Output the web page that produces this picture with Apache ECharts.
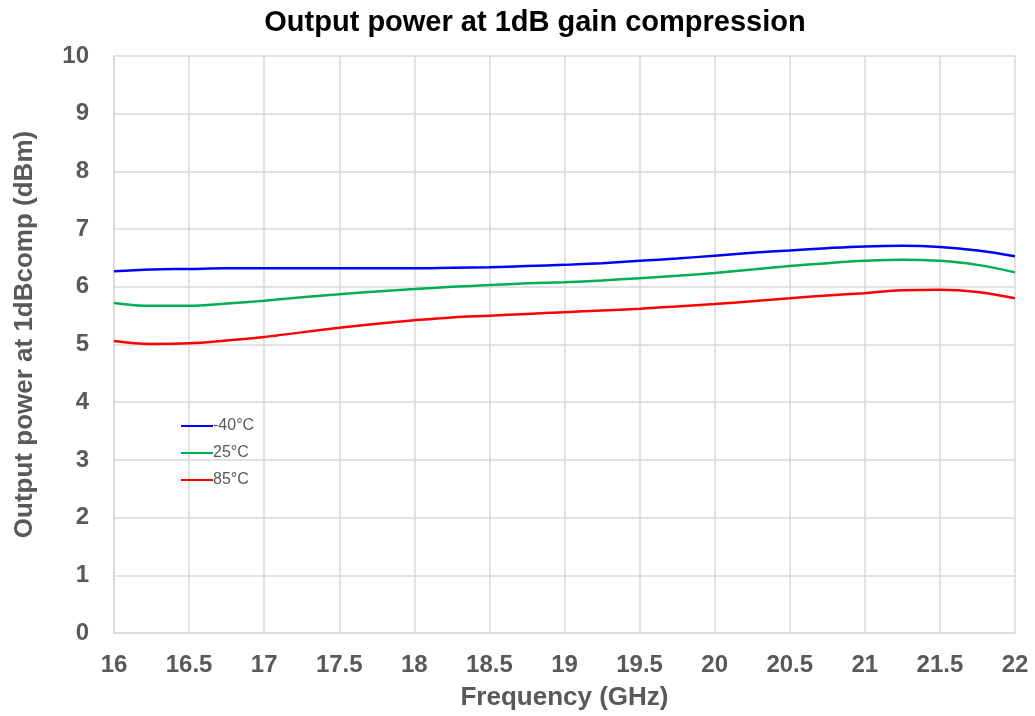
<!DOCTYPE html>
<html>
<head>
<meta charset="utf-8">
<script src="https://cdn.jsdelivr.net/npm/echarts@6/dist/echarts.min.js"></script>
<style>
  html, body { margin: 0; padding: 0; background: #ffffff; }
  #chart { width: 1035px; height: 716px; }
</style>
</head>
<body>
<div id="chart"></div>
<script>
// Frequency points (GHz)
const freqs = [16, 16.25, 16.5, 16.75, 17, 17.25, 17.5, 17.75, 18, 18.25, 18.5, 18.75,
               19, 19.25, 19.5, 19.75, 20, 20.25, 20.5, 20.75, 21, 21.25, 21.5, 21.75, 22];

// P1dB output power (dBm) per temperature
const pMinus40 = [6.27, 6.30, 6.31, 6.32, 6.32, 6.32, 6.32, 6.32, 6.32, 6.33, 6.34, 6.36,
                  6.38, 6.41, 6.45, 6.49, 6.54, 6.59, 6.63, 6.67, 6.70, 6.71, 6.69, 6.63, 6.53];
const p25 = [5.72, 5.67, 5.67, 5.71, 5.76, 5.82, 5.87, 5.92, 5.96, 6.00, 6.03, 6.06,
             6.08, 6.11, 6.15, 6.19, 6.24, 6.30, 6.36, 6.41, 6.45, 6.47, 6.45, 6.38, 6.25];
const p85 = [5.06, 5.01, 5.02, 5.07, 5.13, 5.21, 5.29, 5.36, 5.42, 5.47, 5.50, 5.53,
             5.56, 5.59, 5.62, 5.66, 5.70, 5.75, 5.80, 5.85, 5.89, 5.94, 5.95, 5.91, 5.80];

const seriesNames = ['-40°C', '25°C', '85°C'];
const seriesColors = ['#0000ff', '#00b050', '#ff0000'];
const seriesData = [pMinus40, p25, p85];

const chart = echarts.init(document.getElementById('chart'), null, { renderer: 'canvas' });

const FONT = 'Liberation Sans, Arial, sans-serif';
const tickFont = { fontFamily: FONT, fontWeight: 'bold', fontSize: 24, color: '#595959' };
const nameFont = { fontFamily: FONT, fontWeight: 'bold', fontSize: 26, color: '#595959' };
const gridColor = '#d9d9d9';

chart.setOption({
  animation: false,
  backgroundColor: '#ffffff',
  title: {
    text: 'Output power at 1dB gain compression',
    left: 530,
    top: 3,
    textAlign: 'center',
    textStyle: { fontFamily: FONT, fontWeight: 'bold', fontSize: 29, color: '#000000' }
  },
  legend: {
    orient: 'vertical',
    left: 176,
    top: 413,
    itemWidth: 32,
    itemHeight: 16,
    itemGap: 11,
    icon: 'path://M0,7 L32,7 L32,9 L0,9 Z',
    textStyle: { fontFamily: FONT, fontSize: 16, color: '#595959', padding: [0, 0, 0, -5] },
    data: seriesNames
  },
  grid: { left: 114, right: 20, top: 56, bottom: 82, containLabel: false },
  xAxis: {
    type: 'value',
    min: 16,
    max: 22,
    interval: 0.5,
    name: 'Frequency (GHz)',
    nameLocation: 'middle',
    nameGap: 52,
    nameTextStyle: nameFont,
    axisLine: { show: true, lineStyle: { color: gridColor, width: 1.5 } },
    axisTick: { show: false },
    axisLabel: Object.assign({ margin: 20 }, tickFont),
    splitLine: { show: true, lineStyle: { color: gridColor, width: 1.5 } }
  },
  yAxis: {
    type: 'value',
    min: 0,
    max: 10,
    interval: 1,
    name: 'Output power at 1dBcomp (dBm)',
    nameLocation: 'middle',
    nameGap: 76,
    nameTextStyle: Object.assign({ padding: [0, 0, 0, 20] }, nameFont),
    axisLine: { show: true, lineStyle: { color: gridColor, width: 1.5 } },
    axisTick: { show: false },
    axisLabel: Object.assign({ margin: 25 }, tickFont),
    splitLine: { show: true, lineStyle: { color: gridColor, width: 1.5 } }
  },
  series: seriesNames.map((name, i) => ({
    name: name,
    type: 'line',
    smooth: 0.4,
    symbol: 'none',
    data: freqs.map((f, j) => [f, seriesData[i][j]]),
    lineStyle: { color: seriesColors[i], width: 2.5 },
    itemStyle: { color: seriesColors[i] }
  }))
});
</script>
</body>
</html>
